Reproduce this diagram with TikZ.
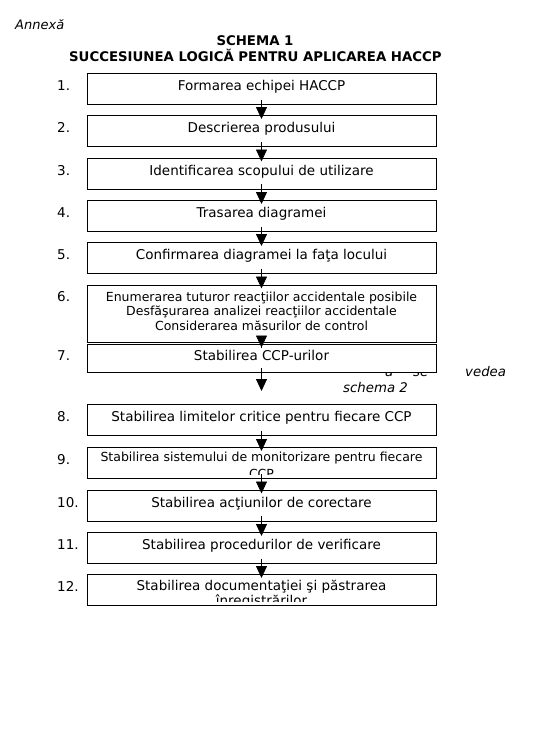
\documentclass[tikz,border=0pt]{standalone}
\usepackage{fontspec}
\setmainfont{DejaVu Sans}
\usetikzlibrary{arrows.meta}

\begin{document}
\begin{tikzpicture}[x=1pt,y=1pt,yscale=-1,xscale=1,
        stepbox/.style={draw,line width=0.9pt,fill=white,anchor=north,minimum width=349pt,minimum height=31pt,inner ysep=0pt,text height=17.5pt,text depth=13.5pt,align=center,font=\fontsize{13.5}{15}\selectfont},
        numlabel/.style={anchor=base west,inner sep=0pt,font=\fontsize{13.5}{15}\selectfont},
        flow/.style={line width=0.8pt,-{Triangle[width=11pt,length=12pt]},shorten <=-5pt,shorten >=-4pt},
        note/.style={anchor=base west,inner sep=0pt,font=\fontsize{13.3}{15}\selectfont\itshape}]
        \fill[white] (0,0) rectangle (536,729);
        \useasboundingbox (0,0) rectangle (536,729);
        % titles
        \draw (15,29) node [anchor=base west][inner sep=0pt][font=\fontsize{13}{15}\selectfont\itshape] (annex) {Annexă};
        \draw (255,45) node [anchor=base][inner sep=0pt][font=\fontsize{13.3}{15}\selectfont\bfseries] (title1) {SCHEMA 1};
        \draw (255.4,61.7) node [anchor=base][inner sep=0pt][font=\fontsize{13.3}{15}\selectfont\bfseries] (title2) {SUCCESIUNEA LOGICĂ PENTRU APLICAREA HACCP};
        % note beside step 7 (partly hidden by the box)
        \draw (385,376) node [note] (na) {a};
        \draw (413,376) node [note] (nse) {se};
        \draw (465,376) node [note] (nvedea) {vedea};
        \draw (343,392.7) node [note] (nschema) {schema 2};
        % steps
        \node [stepbox] (s1) at (261.5,73) {Formarea echipei HACCP};
        \node [stepbox] (s2) at (261.5,115) {Descrierea produsului};
        \node [stepbox] (s3) at (261.5,157.5) {Identificarea scopului de utilizare};
        \node [stepbox] (s4) at (261.5,200) {Trasarea diagramei};
        \node [stepbox] (s5) at (261.5,242) {Confirmarea diagramei la faţa locului};
        \node [stepbox,minimum height=57.5pt,text height=45.5pt,text depth=12pt,font=\fontsize{12.5}{14.5}\selectfont] (s6) at (261.5,284.5) {Enumerarea tuturor reacţiilor accidentale posibile\\Desfăşurarea analizei reacţiilor accidentale\\Considerarea măsurilor de control};
        \node [stepbox,minimum height=28.5pt,text height=17pt,text depth=11.5pt] (s7) at (261.5,343.5) {Stabilirea CCP-urilor};
        \node [stepbox] (s8) at (261.5,404) {Stabilirea limitelor critice pentru fiecare CCP};
        \node [stepbox,text height=14pt,text depth=17pt,font=\fontsize{12.5}{14.5}\selectfont] (s9) at (261.5,447) {Stabilirea sistemului de monitorizare pentru fiecare};
        \node [stepbox] (s10) at (261.5,489.5) {Stabilirea acţiunilor de corectare};
        \node [stepbox] (s11) at (261.5,532) {Stabilirea procedurilor de verificare};
        \node [stepbox,text height=16.5pt,text depth=14.5pt] (s12) at (261.5,574) {Stabilirea documentaţiei şi păstrarea};
        % lines cut off inside the boxes
        \begin{scope}
        \clip (87,447) rectangle (436,474);
        \draw (261.5,478.5) node [anchor=base][inner sep=0pt][font=\fontsize{12.5}{14.5}\selectfont] (s9b) {CCP};
        \end{scope}
        \begin{scope}
        \clip (87,574) rectangle (436,601.7);
        \draw (261.5,605.5) node [anchor=base][inner sep=0pt][font=\fontsize{13.5}{15}\selectfont] (s12b) {înregistrărilor};
        \end{scope}
        % numbers
        \node [numlabel] (n1) at (57,90.5) {1.};
        \node [numlabel] (n2) at (57,132.5) {2.};
        \node [numlabel] (n3) at (57,175) {3.};
        \node [numlabel] (n4) at (57,217.5) {4.};
        \node [numlabel] (n5) at (57,259.5) {5.};
        \node [numlabel] (n6) at (57,301) {6.};
        \node [numlabel] (n7) at (57,360.5) {7.};
        \node [numlabel] (n8) at (57,421.5) {8.};
        \node [numlabel] (n9) at (57,464.5) {9.};
        \node [numlabel] (n10) at (57,507) {10.};
        \node [numlabel] (n11) at (57,549.5) {11.};
        \node [numlabel] (n12) at (57,591.5) {12.};
        % arrows
        \coordinate (c7) at (261.5,387);
        \draw [flow] (s1) -- (s2);
        \draw [flow] (s2) -- (s3);
        \draw [flow] (s3) -- (s4);
        \draw [flow] (s4) -- (s5);
        \draw [flow] (s5) -- (s6);
        \draw [flow] (s6) -- (s7);
        \draw [flow] (s7) -- (c7);
        \draw [flow] (s8) -- (s9);
        \draw [flow] (s9) -- (s10);
        \draw [flow] (s10) -- (s11);
        \draw [flow] (s11) -- (s12);
\end{tikzpicture}
\end{document}
